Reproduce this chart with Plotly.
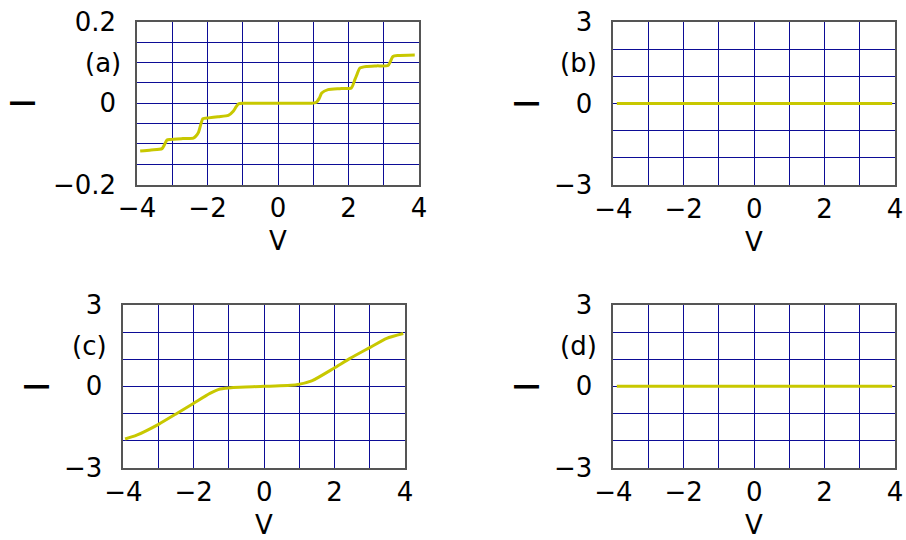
import plotly.graph_objects as go

# (a) Coulomb-staircase current, fine scale
V_a = [-3.91, -3.6, -3.29, -3.22, -3.15, -3.06, -2.7, -2.40, -2.33, -2.26, -2.19, -2.13, -1.97,
       -1.7, -1.41, -1.27, -1.19, -1.12, -0.98, -0.5, 0.0, 0.5, 0.95, 1.09, 1.17, 1.24, 1.42,
       1.75, 2.08, 2.18, 2.25, 2.32, 2.51, 2.8, 3.12, 3.19, 3.26, 3.40, 3.88]
I_a = [-0.1175, -0.115, -0.1117, -0.102, -0.0905, -0.089, -0.087, -0.0857, -0.081, -0.0725,
       -0.052, -0.038, -0.036, -0.033, -0.030, -0.0195, -0.009, -0.0015, 0.0, 0.0, 0.0, 0.0,
       0.0, 0.0025, 0.012, 0.025, 0.0335, 0.036, 0.0377, 0.058, 0.073, 0.0867, 0.0906, 0.092,
       0.093, 0.103, 0.115, 0.1175, 0.119]

# (b) flat current
V_b = [-3.9, 3.92]
I_b = [0.0, 0.0]

# (c) smooth current with a suppressed region near zero bias
V_c = [-3.95, -3.62, -3.0, -2.48, -2.01, -1.54, -1.25, -0.875, 0.0, 0.92, 1.35, 1.97, 2.44,
       3.0, 3.48, 3.95]
I_c = [-1.94, -1.80, -1.40, -1.0, -0.63, -0.26, -0.10, -0.04, 0.0, 0.06, 0.2, 0.66, 1.03,
       1.43, 1.77, 1.95]

# (d) flat current
V_d = [-3.9, 3.92]
I_d = [0.0, 0.0]

x_ticks = [-4, -3, -2, -1, 0, 1, 2, 3, 4]
x_labels = ["−4", "", "−2", "", "0", "", "2", "", "4"]
ya_ticks = [-0.2, -0.15, -0.1, -0.05, 0, 0.05, 0.1, 0.15, 0.2]
ya_labels = ["−0.2", "", "", "", "0", "", "", "", "0.2"]
yb_ticks = [-3, -2, -1, 0, 1, 2, 3]
yb_labels = ["−3", "", "", "0", "", "", "3"]

panel_names = ["(a)", "(b)", "(c)", "(d)"]
panel_label_y = [0.1, 1.5, 1.5, 1.5]
x_title = "V"
y_title = "I"

W, H = 906, 540
FONT = "DejaVu Sans, Liberation Sans, Arial, sans-serif"
FS = 26
LINE = "#c8c800"
GRID = "#0c0c96"
FRAME = "#555555"

# pixel boxes of the four plot areas: left, right, top, bottom
boxes = [(137, 419, 22, 184.5), (613.3, 895, 22, 185),
         (123.3, 405, 305, 467.7), (613.3, 895, 305, 467.7)]

fig = go.Figure()
series = [(V_a, I_a), (V_b, I_b), (V_c, I_c), (V_d, I_d)]
annotations = []

for i, ((vx, iy), (l, r, t, b)) in enumerate(zip(series, boxes)):
    n = "" if i == 0 else str(i + 1)
    fig.add_trace(go.Scatter(
        x=vx, y=iy, mode="lines", xaxis="x" + n, yaxis="y" + n,
        line=dict(color=LINE, width=3, shape="spline", smoothing=0.6),
        showlegend=False, hoverinfo="skip"))

    fine = i == 0
    fig.update_layout(**{
        "xaxis" + n: dict(
            domain=[l / W, r / W], anchor="y" + n, range=[-4, 4], automargin=False,
            tickvals=x_ticks, ticktext=x_labels, ticks="", ticklabelstandoff=0,
            showgrid=True, gridcolor=GRID, gridwidth=1, zeroline=False,
            showline=True, linecolor=FRAME, linewidth=1.5, mirror=True,
            tickfont=dict(size=FS, color="black", family=FONT), fixedrange=True),
        "yaxis" + n: dict(
            domain=[1 - b / H, 1 - t / H], anchor="x" + n, automargin=False,
            range=[-0.2, 0.2] if fine else [-3, 3],
            tickvals=ya_ticks if fine else yb_ticks,
            ticktext=ya_labels if fine else yb_labels,
            ticks="", ticklabelstandoff=14,
            showgrid=True, gridcolor=GRID, gridwidth=1, zeroline=False,
            showline=True, linecolor=FRAME, linewidth=1.5, mirror=True,
            tickfont=dict(size=FS, color="black", family=FONT), fixedrange=True),
    })

    # panel tag beside the axis
    annotations.append(dict(
        text=panel_names[i], xref="x" + n + " domain", yref="y" + n,
        x=0, y=panel_label_y[i], xanchor="right", yanchor="middle",
        xshift=-14, showarrow=False,
        font=dict(size=FS, color="black", family=FONT)))
    # current axis title (rotated)
    annotations.append(dict(
        text=y_title, xref="paper", yref="paper",
        x=(l - (114 if fine else 86)) / W, y=1 - (t + b) / 2 / H,
        xanchor="center", yanchor="middle", textangle=-90, showarrow=False,
        font=dict(size=34, color="black", family=FONT)))
    # voltage axis title
    annotations.append(dict(
        text=x_title, xref="paper", yref="paper",
        x=(l + r) / 2 / W, y=1 - (b + 57) / H,
        xanchor="center", yanchor="middle", showarrow=False,
        font=dict(size=FS, color="black", family=FONT)))

fig.update_layout(
    width=W, height=H, margin=dict(l=0, r=0, t=0, b=0),
    paper_bgcolor="white", plot_bgcolor="white",
    annotations=annotations, showlegend=False)

fig.write_html("out.html", config={"displayModeBar": False})
